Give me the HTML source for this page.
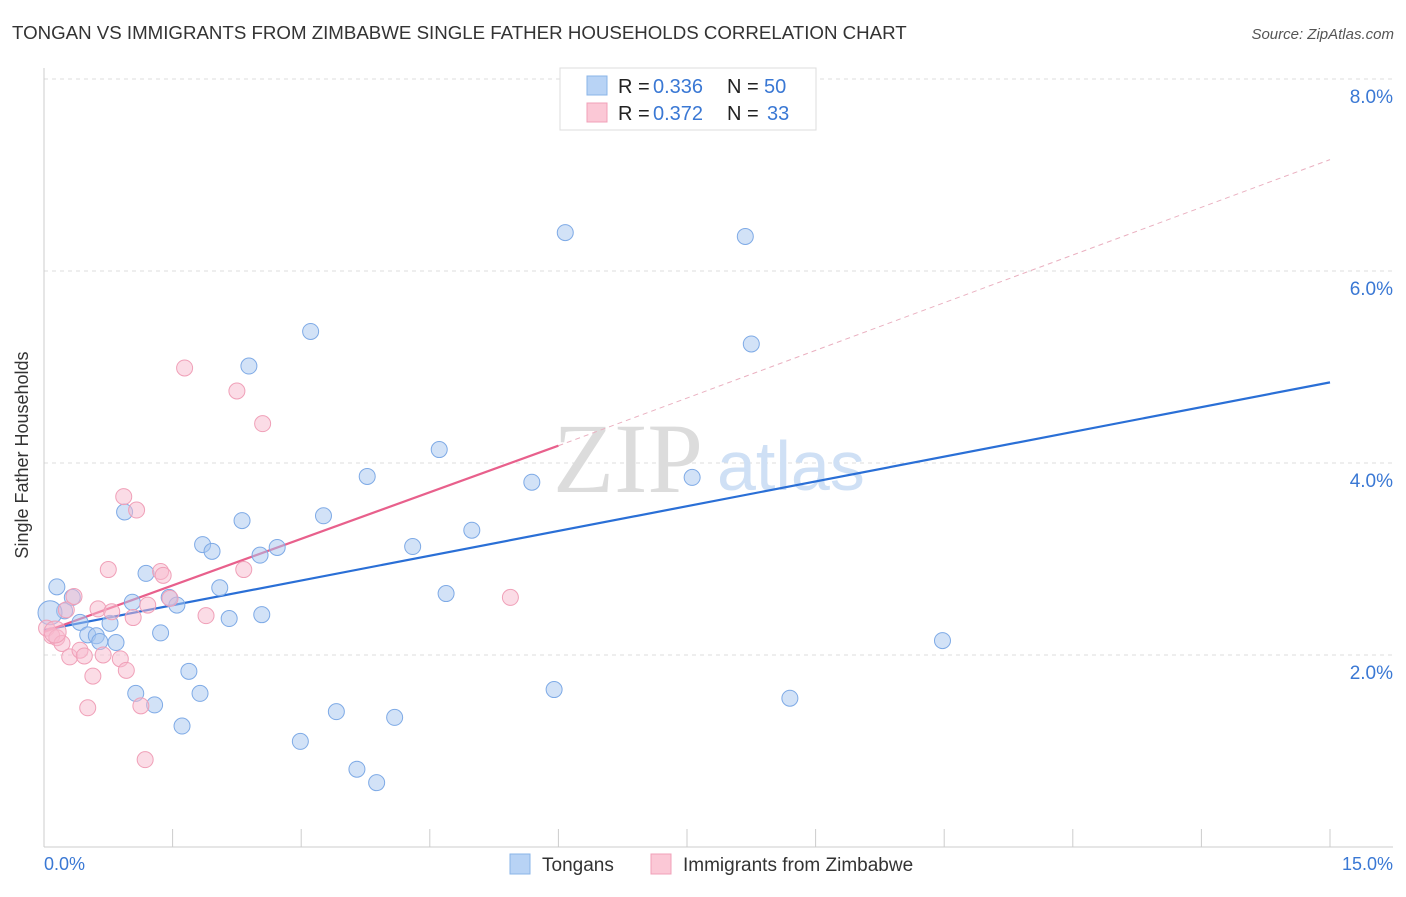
<!DOCTYPE html>
<html><head><meta charset="utf-8"><style>
body{margin:0;background:#fff;font-family:"Liberation Sans",sans-serif;}
svg text{font-family:"Liberation Sans",sans-serif;}
</style></head><body>
<svg width="1406" height="892" xmlns="http://www.w3.org/2000/svg">
<text x="12" y="39" font-size="18.7" fill="#333">TONGAN VS IMMIGRANTS FROM ZIMBABWE SINGLE FATHER HOUSEHOLDS CORRELATION CHART</text>
<text x="1394" y="39" font-size="15" fill="#555" text-anchor="end" font-style="italic">Source: ZipAtlas.com</text>
<g id="grid"></g>
<line x1="44" y1="68" x2="44" y2="847" stroke="#ccc"/>
<line x1="44" y1="847" x2="1393" y2="847" stroke="#ccc"/>
<text x="28" y="455" font-size="18" fill="#333" text-anchor="middle" transform="rotate(-90 28 455)">Single Father Households</text>
<text x="44" y="870" font-size="18" fill="#3a78d4">0.0%</text>
<text x="1393" y="870" font-size="18" fill="#3a78d4" text-anchor="end">15.0%</text>
<text x="553" y="492" font-size="100" fill="#dcdcdc" style="font-family:'Liberation Serif',serif">ZIP</text>
<text x="717" y="490" font-size="70" fill="#cfe0f5">atlas</text>
<g id="ticks"></g>
<g id="lines"></g>
<g id="pts"></g>
<g>
<rect x="560" y="68" width="256" height="62" fill="#fff" stroke="#ddd"/>
<rect x="587" y="76" width="20" height="19" fill="#b8d3f5" stroke="#8ab4e8"/>
<rect x="587" y="103" width="20" height="19" fill="#fbc8d6" stroke="#f0a0b8"/>
<text x="618" y="93" font-size="20" fill="#222">R =</text>
<text x="653" y="93" font-size="20" fill="#3a78d4">0.336</text>
<text x="727" y="93" font-size="20" fill="#222">N =</text>
<text x="764" y="93" font-size="20" fill="#3a78d4">50</text>
<text x="618" y="120" font-size="20" fill="#222">R =</text>
<text x="653" y="120" font-size="20" fill="#3a78d4">0.372</text>
<text x="727" y="120" font-size="20" fill="#222">N =</text>
<text x="767" y="120" font-size="20" fill="#3a78d4">33</text>
</g>
<g>
<rect x="510" y="854" width="20" height="20" fill="#b8d3f5" stroke="#8ab4e8"/>
<text x="542" y="871" font-size="19" fill="#333">Tongans</text>
<rect x="651" y="854" width="20" height="20" fill="#fbc8d6" stroke="#f0a0b8"/>
<text x="683" y="871" font-size="19" fill="#333">Immigrants from Zimbabwe</text>
</g>
</svg>
<script>
const yTicks=[2,4,6,8];
const tonganX=[0.15,0.24,0.33,0.42,0.51,0.61,0.65,0.77,0.84,0.94,1.03,1.07,1.19,1.29,1.36,1.46,1.55,1.61,1.69,1.82,1.85,1.96,2.05,2.16,2.31,2.39,2.52,2.54,2.72,2.99,3.11,3.26,3.41,3.65,3.77,3.88,4.09,4.30,4.61,4.69,4.99,5.69,5.95,6.08,7.56,8.18,8.25,8.70,10.48,0.07];
const tonganY=[2.71,2.46,2.60,2.34,2.21,2.20,2.14,2.33,2.13,3.49,2.55,1.60,2.85,1.48,2.23,2.60,2.52,1.26,1.83,1.60,3.15,3.08,2.70,2.38,3.40,5.01,3.04,2.42,3.12,1.10,5.37,3.45,1.41,0.81,3.86,0.67,1.35,3.13,4.14,2.64,3.30,3.80,1.64,6.40,3.85,6.36,5.24,1.55,2.15,2.44];
const zimX=[0.03,0.09,0.15,0.21,0.26,0.30,0.35,0.42,0.47,0.51,0.57,0.63,0.69,0.75,0.79,0.89,0.93,0.96,1.04,1.08,1.13,1.18,1.21,1.36,1.39,1.47,1.64,1.89,2.25,2.33,2.55,5.44,0.13];
const zimY=[2.28,2.20,2.18,2.12,2.47,1.98,2.61,2.05,1.99,1.45,1.78,2.48,2.00,2.89,2.45,1.96,3.65,1.84,2.39,3.51,1.47,0.91,2.52,2.87,2.83,2.59,4.99,2.41,4.75,2.89,4.41,2.60,2.24];
const trendT=[2.26,4.84];
const trendZ=[2.24,4.18,7.16];
const X=v=>44+v*(1286/15), Y=v=>847-v*96;
const NS='http://www.w3.org/2000/svg';
function mk(t,a,p){const e=document.createElementNS(NS,t);for(const k in a)e.setAttribute(k,a[k]);p.appendChild(e);return e;}
const grid=document.getElementById('grid');
yTicks.forEach(v=>{
 const l=mk('line',{x1:44,x2:1393,y1:Y(v),y2:Y(v),stroke:'#ddd','stroke-dasharray':'4,4'},grid);
 
 
 const t=mk('text',{x:1393,y:Y(v)+24,'font-size':19,fill:'#3a78d4','text-anchor':'end'},grid);
 t.textContent=v.toFixed(1)+'%';
 
 
});
const ticks=document.getElementById('ticks');
for(let i=1;i<=10;i++){
 const l=mk('line',{x1:X(i*1.5),x2:X(i*1.5),y1:829,y2:847,stroke:'#ccc'},ticks);
 
 
}
const lines=document.getElementById('lines');
let l=mk('line',{x1:X(6),y1:Y(trendZ[1]),x2:X(15),y2:Y(trendZ[2]),stroke:'#eab0c0','stroke-dasharray':'5,4','stroke-width':1},lines);


l=mk('line',{x1:X(0),y1:Y(trendT[0]),x2:X(15),y2:Y(trendT[1]),stroke:'#2a6fd6','stroke-width':2.2},lines);


l=mk('line',{x1:X(0),y1:Y(trendZ[0]),x2:X(6),y2:Y(trendZ[1]),stroke:'#e8608c','stroke-width':2.2},lines);


const pts=document.getElementById('pts');
tonganX.forEach((v,i)=>{
 const c=mk('circle',{cx:X(v),cy:Y(tonganY[i]),r:i==49?12:8,fill:'rgba(165,198,240,0.5)',stroke:'#7eaae6','stroke-width':1},pts);
 
 
});
zimX.forEach((v,i)=>{
 const c=mk('circle',{cx:X(v),cy:Y(zimY[i]),r:i==32?11:8,fill:'rgba(248,185,205,0.5)',stroke:'#f0a0b8','stroke-width':1},pts);
 
 
});
</script>
</body></html>
